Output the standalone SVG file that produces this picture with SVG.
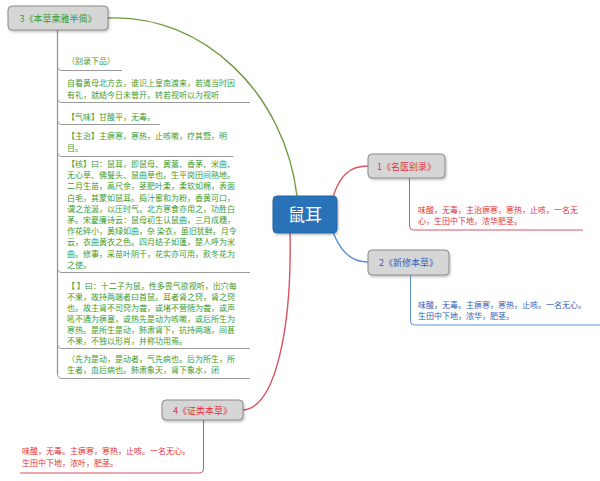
<svg xmlns="http://www.w3.org/2000/svg" width="600" height="481" viewBox="0 0 600 481">
<style>
text{font-family:"Noto Sans CJK SC","Noto Sans",sans-serif;}
.node rect.box{fill:#d6d6d6;stroke:#8a8a8a;stroke-width:1;}
.t{font-size:8px;}
.g{fill:#3f9a2c;}
.r{fill:#e2323c;}
.b{fill:#2f62b8;}
.sep{fill:none;stroke:#9a9a9a;stroke-width:1;}
.title{font-size:9px;}
</style>
<defs>
<filter id="sh" x="-10%" y="-10%" width="130%" height="140%">
<feDropShadow dx="1" dy="1.5" stdDeviation="1" flood-color="#000" flood-opacity="0.25"/>
</filter>
</defs>
<rect width="600" height="481" fill="#ffffff"/>
<g id="connectors" fill="none" stroke-width="1.4">
<path d="M108,18 C205,14 285,95 297,196" stroke="#6e9b3f"/>
<path d="M333,197 C340,175 350,166 368,166" stroke="#d9535f"/>
<path d="M333,232 C340,250 350,262 368,262" stroke="#5b8fd4"/>
<path d="M290,233 C292,330 275,408 243,410" stroke="#d9535f"/>
<path d="M57.5,30 V374" stroke="#7aa65a" stroke-width="1.2"/>
<path d="M409.5,178 V226 Q409.5,230 413.5,230 H583" stroke="#d9535f" stroke-width="1"/>
<path d="M410.5,275 V321 Q410.5,325 414.5,325 H600" stroke="#5b8fd4" stroke-width="1"/>
<path d="M203.5,420 V469 Q203.5,473 199.5,473 H20" stroke="#d9535f" stroke-width="1"/>
</g>
<g id="root">
<rect x="273" y="196" width="64" height="37" rx="4" fill="#2c72b8" stroke="#2566a8" filter="url(#sh)"/>
<text x="305" y="221" font-size="17" fill="#ffffff" text-anchor="middle">鼠耳</text>
</g>
<g id="node1" class="node">
<rect class="box" x="368" y="154" width="77" height="24" rx="4" filter="url(#sh)"/>
<text class="title r" x="406.5" y="169.5" text-anchor="middle">1《名医别录》</text>
<text class="t r" x="418" y="213">味酸，无毒，主治痹寒，寒热，止咳，一名无</text>
<text class="t r" x="418" y="224">心，生田中下地，浓华肥茎。</text>
</g>
<g id="node2" class="node">
<rect class="box" x="368" y="250" width="81" height="25" rx="4" filter="url(#sh)"/>
<text class="title b" x="408.5" y="266" text-anchor="middle">2《新修本草》</text>
<text class="t b" x="418" y="308">味酸，无毒。主痹寒，寒热，止咳。一名无心。</text>
<text class="t b" x="418" y="319">生田中下地，浓华，肥茎。</text>
</g>
<g id="node4" class="node">
<rect class="box" x="162" y="400" width="81" height="20" rx="4" filter="url(#sh)"/>
<text class="title r" x="202.5" y="413.5" text-anchor="middle">4《证类本草》</text>
<text class="t r" x="22" y="454">味酸，无毒。主痹寒，寒热，止咳。一名无心。</text>
<text class="t r" x="22" y="466">生田中下地，浓叶，肥茎。</text>
</g>
<g id="node3" class="node">
<rect class="box" x="8" y="6" width="100" height="24" rx="4" filter="url(#sh)"/>
<text class="title g" x="58" y="21.5" text-anchor="middle">3《本草乘雅半偈》</text>
</g>
<g id="node3-items">
<text class="t g" x="67" y="64">（别录下品）</text>
<path class="sep" d="M57.5,66 Q57.5,70.5 62,70.5 H122"/>
<text class="t g" x="67" y="86">自看黄母北方去，谁识上皇南渡来，若道当时因</text>
<text class="t g" x="67" y="98">有礼，就结今日未曾开。转若视听以为视听</text>
<path class="sep" d="M57.5,98 Q57.5,102.5 62,102.5 H250"/>
<text class="t g" x="67" y="120">【气味】甘酸平，无毒。</text>
<path class="sep" d="M57.5,120 Q57.5,124.5 62,124.5 H160"/>
<text class="t g" x="67" y="139">【主治】主痹寒，寒热，止咳嗽，疗其暨，明</text>
<text class="t g" x="67" y="151">目。</text>
<path class="sep" d="M57.5,152 Q57.5,156.5 62,156.5 H233"/>
<text class="t g" x="67" y="167">【核】曰：鼠耳，即鼠母、黄蒿、香茅、米曲、</text>
<text class="t g" x="67" y="178.2">无心草、佛髮头、鼠曲草也。生平岗田间熟地。</text>
<text class="t g" x="67" y="189.4">二月生苗，高尺余，茎肥叶柔，柔软如棉，表面</text>
<text class="t g" x="67" y="200.6">白毛，其蒙如鼠耳。捣汁蜜和为粉，香黄可口，</text>
<text class="t g" x="67" y="211.8">谓之龙涎，以压时气。北方寒食亦用之，功胜白</text>
<text class="t g" x="67" y="223">茅。宋憂廉诗云：鼠母初生认鼠曲，三月成穗，</text>
<text class="t g" x="67" y="234.2">作花碎小，黄绿如曲，杂 染衣，虽旧犹鲜。月令</text>
<text class="t g" x="67" y="245.4">云，衣曲黄衣之色。四月结子如蓬，楚人呼为米</text>
<text class="t g" x="67" y="256.6">曲。修事，采苗叶阴干，花实亦可用，款冬花为</text>
<text class="t g" x="67" y="267.8">之使。</text>
<path class="sep" d="M57.5,268 Q57.5,272.5 62,272.5 H250"/>
<text class="t g" x="67" y="289">【 】曰：十二子为鼠，性多畏气欲视听，出穴每</text>
<text class="t g" x="67" y="300">不果，故持两端者曰首鼠。耳者肾之窍，肾之窍</text>
<text class="t g" x="67" y="311">也。故主肾不司窍为聋，或堵不营随为聋，或声</text>
<text class="t g" x="67" y="322">吼不通为痹塞，或热先是动为咳嗽，或后所生为</text>
<text class="t g" x="67" y="333">寒热。是所生是动，肺肃肾下，抗持两端，间甚</text>
<text class="t g" x="67" y="344">不果，不独以形肖，并称功用焉。</text>
<path class="sep" d="M57.5,344 Q57.5,348.5 62,348.5 H250"/>
<text class="t g" x="67" y="362">（先为是动，是动者，气先病也。后为所生，所</text>
<text class="t g" x="67" y="373">生者，血后病也。肺肃象天，肾下象水，闭</text>
<path class="sep" d="M57.5,374 Q57.5,378.5 62,378.5 H250"/>
</g>
</svg>
